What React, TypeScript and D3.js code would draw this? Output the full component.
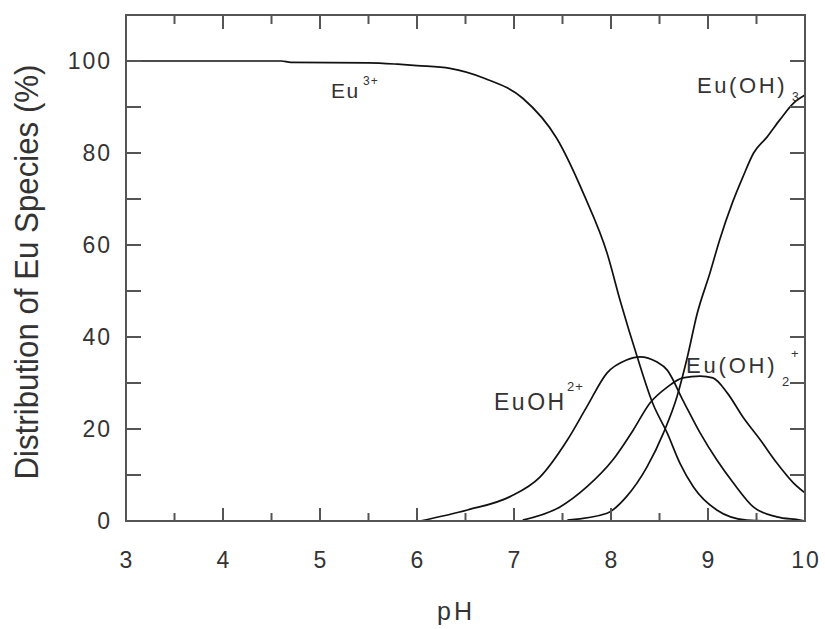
import React from "react";
import * as d3 from "d3";

// Eu speciation versus pH (percent of total Eu)
const euPH = [3, 4, 4.6, 4.7, 5.5, 5.8, 6.0, 6.34, 6.7, 7.09, 7.44, 7.73, 7.96, 8.1, 8.27, 8.43, 8.58, 8.71, 8.85, 9.09, 9.4, 9.7, 10];
const eu3 = [100, 100, 100, 99.7, 99.6, 99.3, 99.0, 98.4, 96.2, 91.9, 83.2, 70.5, 58.2, 47.5, 35.7, 25.6, 19.1, 12.6, 7.4, 2.4, 0.2, 0, 0];

const euohPH = [6.03, 6.52, 6.96, 7.27, 7.55, 7.75, 7.96, 8.16, 8.3, 8.47, 8.58, 8.74, 8.92, 9.09, 9.26, 9.47, 9.71, 9.95, 10];
const euoh = [0, 2.4, 5.3, 9.6, 17.6, 24.8, 32.2, 35.0, 35.7, 34.6, 32.8, 26.3, 19.1, 13.3, 8.3, 3.0, 0.9, 0.2, 0];

const euoh2PH = [7.09, 7.47, 7.75, 8.02, 8.23, 8.4, 8.58, 8.74, 8.92, 9.05, 9.2, 9.36, 9.54, 9.71, 9.88, 10];
const euoh2 = [0.2, 3.0, 7.4, 13.3, 19.8, 25.6, 29.1, 31.1, 31.5, 31.1, 27.8, 22.6, 17.6, 12.6, 8.3, 6.1];

const euoh3PH = [7.55, 7.96, 8.16, 8.37, 8.54, 8.68, 8.78, 8.89, 9.02, 9.12, 9.25, 9.36, 9.47, 9.61, 9.74, 9.88, 10];
const euoh3 = [0.2, 1.7, 5.3, 11.7, 19.1, 27.0, 35.0, 45.2, 53.9, 61.1, 69.1, 74.8, 80.0, 83.5, 87.2, 90.8, 92.6];

const xMajor = [3, 4, 5, 6, 7, 8, 9, 10];
const xMinor = [3.5, 4.5, 5.5, 6.5, 7.5, 8.5, 9.5];
const yMajor = [0, 20, 40, 60, 80, 100];
const yMinor = [10, 30, 50, 70, 90];

const W = 825;
const H = 629;
const left = 126;
const right = 805;
const top = 15;
const bottom = 521;

const FONT = "'Liberation Sans', Arial, sans-serif";
const TEXT = "#333";
const AXIS = "#555";

export default function App() {
  const x = d3.scaleLinear().domain([3, 10]).range([left, right]);
  const y = d3.scaleLinear().domain([0, 110]).range([bottom, top]);

  const line = d3
    .line<[number, number]>()
    .x((d) => x(d[0]))
    .y((d) => y(d[1]))
    .curve(d3.curveMonotoneX);

  const series = [
    d3.zip(euPH, eu3),
    d3.zip(euohPH, euoh),
    d3.zip(euoh2PH, euoh2),
    d3.zip(euoh3PH, euoh3),
  ] as [number, number][][];

  const majLen = 14;
  const minLen = 8;

  return (
    <svg
      width={W}
      height={H}
      style={{ position: "absolute", left: 0, top: 0, background: "#fff" }}
      fontFamily={FONT}
    >
      <rect x={0} y={0} width={W} height={H} fill="#fff" />

      {/* curves */}
      <g fill="none" stroke="#111" strokeWidth={1.7}>
        {series.map((s, i) => (
          <path key={i} d={line(s) || ""} />
        ))}
      </g>

      {/* frame and ticks */}
      <g stroke={AXIS} strokeWidth={2} fill="none">
        <rect x={left} y={top} width={right - left} height={bottom - top} />
        {xMajor.map((v) => (
          <g key={"xM" + v}>
            <line x1={x(v)} x2={x(v)} y1={bottom} y2={bottom - majLen + 1} />
            <line x1={x(v)} x2={x(v)} y1={top} y2={top + majLen} />
          </g>
        ))}
        {xMinor.map((v) => (
          <g key={"xm" + v}>
            <line x1={x(v)} x2={x(v)} y1={bottom} y2={bottom - minLen} />
            <line x1={x(v)} x2={x(v)} y1={top} y2={top + minLen + 1} />
          </g>
        ))}
        {[...yMajor, ...yMinor].map((v) => (
          <g key={"y" + v}>
            <line x1={left} x2={left + 15} y1={y(v)} y2={y(v)} />
            <line x1={right} x2={right - 15} y1={y(v)} y2={y(v)} />
          </g>
        ))}
      </g>

      {/* tick labels */}
      <g fill={TEXT} fontSize={23} letterSpacing={2}>
        {yMajor.map((v) => (
          <text key={"yl" + v} x={112} y={y(v)} dy="0.36em" textAnchor="end">
            {v}
          </text>
        ))}
        {xMajor.map((v) => (
          <text key={"xl" + v} x={x(v) + 1} y={568} textAnchor="middle">
            {v}
          </text>
        ))}
      </g>

      {/* axis titles */}
      <text
        transform={`translate(38, 272) rotate(-90)`}
        textAnchor="middle"
        fontSize={33}
        fill={TEXT}
        textLength={415}
        lengthAdjust="spacingAndGlyphs"
      >
        Distribution of Eu Species (%)
      </text>
      <text x={456} y={620} textAnchor="middle" fontSize={25} letterSpacing={3} fill={TEXT}>
        pH
      </text>

      {/* species labels */}
      <g fill={TEXT}>
        <text x={331} y={98} fontSize={21} letterSpacing={1.5}>Eu</text>
        <text x={363} y={85} fontSize={12} letterSpacing={1}>3+</text>

        <text x={697} y={93} fontSize={22} letterSpacing={2.6}>Eu(OH)</text>
        <text x={792} y={101} fontSize={12}>3</text>

        <text x={494} y={410} fontSize={23} letterSpacing={2.5}>EuOH</text>
        <text x={567} y={391} fontSize={13} letterSpacing={1}>2+</text>

        <text x={686} y={373} fontSize={22} letterSpacing={2.8}>Eu(OH)</text>
        <text x={782} y={386} fontSize={13}>2</text>
        <text x={791} y={358} fontSize={13}>+</text>
      </g>
    </svg>
  );
}
